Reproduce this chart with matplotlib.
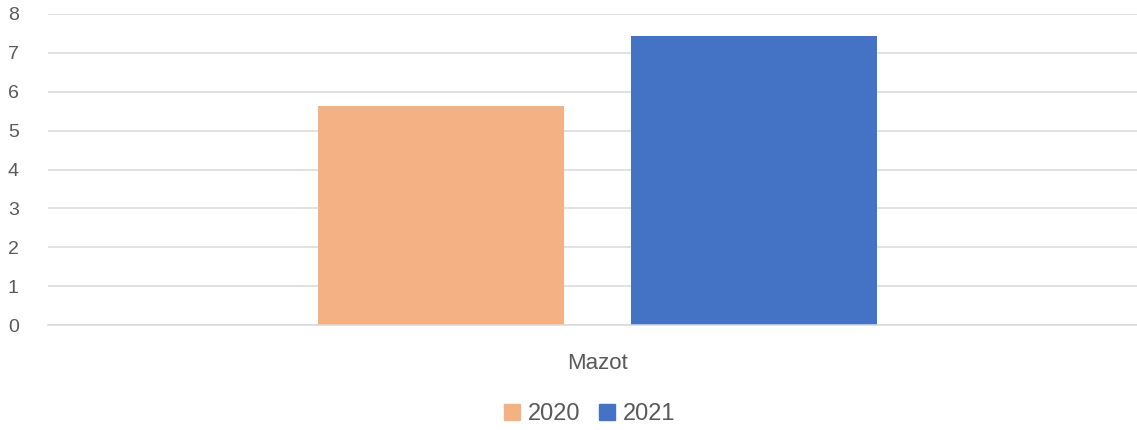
import matplotlib
matplotlib.use('Agg')
import matplotlib.pyplot as plt
from matplotlib.patches import Patch

categories = ['Mazot']
years = ['2020', '2021']
values_2020 = [5.63]
values_2021 = [7.43]
colors = ['#F4B183', '#4472C4']

plt.rcParams['font.family'] = ['Liberation Sans', 'DejaVu Sans']
txt = '#595959'

fig = plt.figure(figsize=(11.37, 4.30), dpi=100)
ax = fig.add_axes([48/1137, 1-325/430, 1089/1137, 311/430])

bw = 0.226   #bar width in category units
off = 0.1435 #offset of each bar from category centre
x = range(len(categories))
ax.bar([i-off for i in x], values_2020, width=bw, color=colors[0], zorder=2)
ax.bar([i+off for i in x], values_2021, width=bw, color=colors[1], zorder=2)

ax.set_xlim(-0.5046, 0.4954)
ax.set_ylim(0, 8)
ax.set_yticks(range(9))
ax.set_xticks(list(x))
ax.set_xticklabels(categories)
ax.grid(axis='y', color='#d9d9d9', linewidth=1.1, zorder=0)
for s in ['top', 'right', 'left']:
    ax.spines[s].set_visible(False)
ax.spines['bottom'].set_color('#d9d9d9')
ax.spines['bottom'].set_linewidth(1.1)
ax.tick_params(axis='y', length=0, pad=21, labelsize=14, labelcolor=txt)
ax.tick_params(axis='x', length=0, pad=20, labelsize=16, labelcolor=txt)

handles = [Patch(color=c) for c in colors]
fig.legend(handles, years, loc='center', bbox_to_anchor=(590/1137, 1-414/430),
           ncol=2, frameon=False, fontsize=17, labelcolor=txt,
           handlelength=0.65, handleheight=0.65, handletextpad=0.35, columnspacing=0.8)

fig.savefig('out.png', dpi=100)
